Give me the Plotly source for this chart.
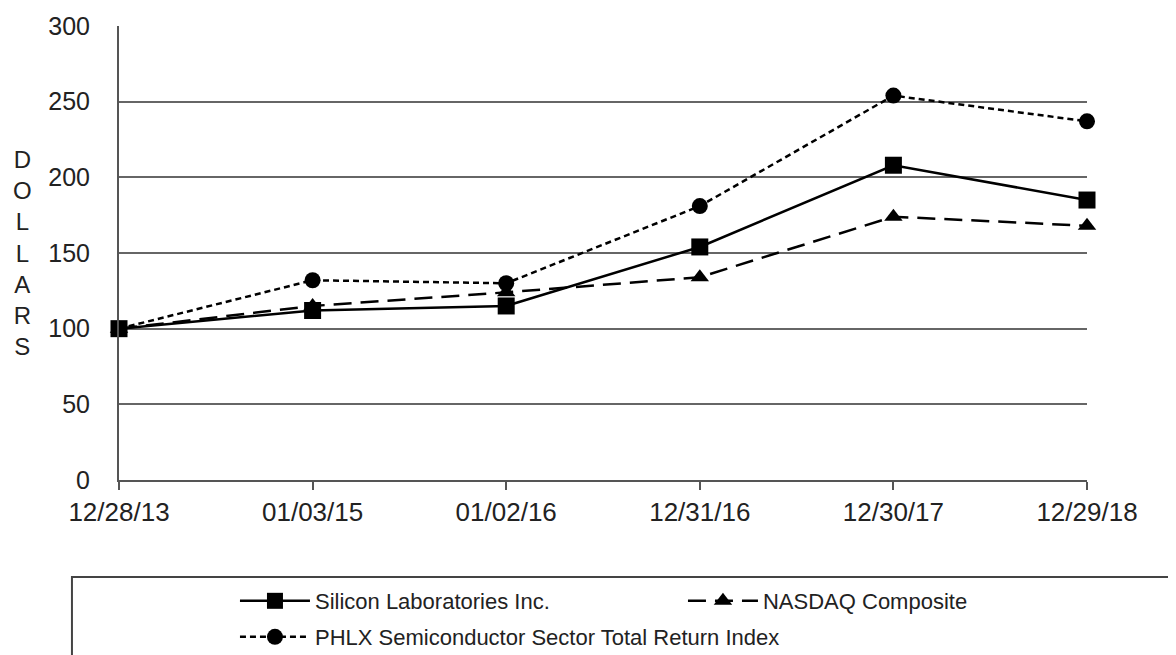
import plotly.graph_objects as go

dates = ["12/28/13", "01/03/15", "01/02/16", "12/31/16", "12/30/17", "12/29/18"]
silicon_labs = [100, 112, 115, 154, 208, 185]
nasdaq = [100, 115, 124, 134, 174, 168]
phlx = [100, 132, 130, 181, 254, 237]
y_ticks = [0, 50, 100, 150, 200, 250, 300]

FONT = "Liberation Sans, Arial, sans-serif"

fig = go.Figure()

fig.add_trace(go.Scatter(
    x=dates, y=phlx, name="PHLX Semiconductor Sector Total Return Index",
    mode="lines+markers", legend="legend2", cliponaxis=False,
    line=dict(color="black", width=2.5, dash="6px,4px"),
    marker=dict(symbol="circle", size=16, color="black"),
))
fig.add_trace(go.Scatter(
    x=dates, y=nasdaq, name="NASDAQ Composite",
    mode="lines+markers", legendrank=2, cliponaxis=False,
    line=dict(color="black", width=2.5, dash="18px,9px"),
    marker=dict(symbol="triangle-up", size=16, color="black"),
))
fig.add_trace(go.Scatter(
    x=dates, y=silicon_labs, name="Silicon Laboratories Inc.",
    mode="lines+markers", legendrank=1, cliponaxis=False,
    line=dict(color="black", width=2.5),
    marker=dict(symbol="square", size=17, color="black"),
))

legend_common = dict(
    orientation="h", xanchor="left", yanchor="top",
    font=dict(family=FONT, size=22, color="#222"),
    itemwidth=70, bgcolor="rgba(0,0,0,0)", borderwidth=0,
)

fig.update_layout(
    width=1176, height=655,
    margin=dict(l=111, r=97, t=18, b=183, autoexpand=False),
    paper_bgcolor="white", plot_bgcolor="white",
    font=dict(family=FONT, size=25, color="#222"),
    showlegend=True,
    legend=dict(x=0.1198, y=-0.2203, entrywidth=363, **legend_common),
    legend2=dict(x=0.1198, y=-0.2996, **legend_common),
    xaxis=dict(
        type="category", range=[0, 5],
        showgrid=False, showline=True, linecolor="#555", linewidth=2,
        ticks="outside", ticklen=8, tickwidth=2, tickcolor="#555",
        tickfont=dict(family=FONT, size=26, color="#222"),
        zeroline=False,
    ),
    yaxis=dict(
        range=[0, 300], tickvals=y_ticks,
        showgrid=True, gridcolor="#666", gridwidth=2,
        showline=True, linecolor="#555", linewidth=2,
        ticks="", ticklabelstandoff=22,
        tickfont=dict(family=FONT, size=25, color="#222"),
        zeroline=False,
    ),
    shapes=[dict(
        type="rect", xref="paper", yref="paper",
        x0=-0.0486, x1=1.2, y0=-0.2137, y1=-0.6,
        line=dict(color="#444", width=2), fillcolor="rgba(0,0,0,0)", layer="below",
    )],
    annotations=[dict(
        text="D<br>O<br>L<br>L<br>A<br>R<br>S", xref="paper", yref="paper",
        x=-0.1, y=0.501, xanchor="center", yanchor="middle", showarrow=False,
        font=dict(family=FONT, size=24, color="#222"), align="center",
    )],
)

fig.write_html("out.html")
